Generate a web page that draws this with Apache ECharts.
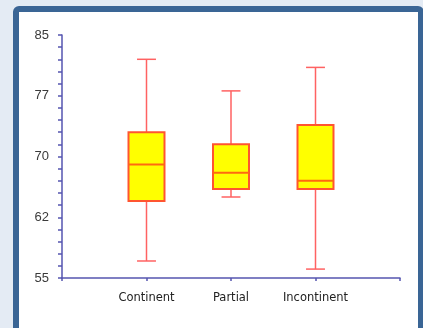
<!DOCTYPE html>
<html>
<head>
<meta charset="utf-8">
<script src="https://cdn.jsdelivr.net/npm/echarts@6/dist/echarts.min.js"></script>
<style>
  html, body { margin: 0; padding: 0; background: #e4ebf4; width: 423px; height: 328px; overflow: hidden; }
  #frame { position: absolute; left: 13px; top: 6px; width: 399px; height: 400px; border: 6px solid #3a6595; border-radius: 6px; background: #ffffff; }
  #chart { position: absolute; left: 0; top: 0; width: 423px; height: 328px; }
</style>
</head>
<body>
<div id="frame"></div>
<div id="chart"></div>
<script>
const categories = ['Continent', 'Partial', 'Incontinent'];
const lowValues = [57.1, 65.0, 56.1];
const q1Values = [64.5, 66.0, 66.0];
const medianValues = [69.0, 68.0, 67.0];
const q3Values = [73.0, 71.5, 73.9];
const highValues = [82.0, 78.1, 81.0];
const yTickLabels = ['55', '62', '70', '77', '85'];
const yMin = 55, yMax = 85, yInterval = 7.5;

const xCats = [''].concat(categories, ['']);
const boxData = categories.map((c, i) => [i + 1, lowValues[i], q1Values[i], medianValues[i], q3Values[i], highValues[i]]);

const chart = echarts.init(document.getElementById('chart'), null, { renderer: 'canvas' });
chart.setOption({
  backgroundColor: 'transparent',
  animation: false,
  grid: { left: 62, right: 23, top: 35, bottom: 50, containLabel: false },
  xAxis: {
    type: 'category',
    data: xCats,
    boundaryGap: false,
    axisLine: { lineStyle: { color: '#5555b0', width: 1.5 } },
    axisTick: { show: true, length: 3, alignWithLabel: true, interval: 0, lineStyle: { color: '#5555b0', width: 1.5 } },
    axisLabel: { interval: 0, margin: 14, color: '#222', fontFamily: 'DejaVu Sans', fontSize: 11.5 },
    splitLine: { show: false }
  },
  yAxis: {
    type: 'value',
    min: yMin, max: yMax, interval: yInterval,
    axisLine: { show: true, lineStyle: { color: '#5555b0', width: 1.5 } },
    axisTick: { show: true, length: 4, lineStyle: { color: '#5555b0', width: 1.5 } },
    minorTick: { show: true, splitNumber: 5, length: 4, lineStyle: { color: '#5555b0', width: 1.5 } },
    axisLabel: {
      margin: 13, color: '#3a3a3a', fontFamily: 'Liberation Sans', fontSize: 13,
      formatter: v => yTickLabels[Math.round((v - yMin) / yInterval)]
    },
    splitLine: { show: false }
  },
  series: [{
    type: 'custom',
    data: boxData,
    encode: { x: 0, y: [1, 2, 3, 4, 5] },
    renderItem: function (params, api) {
      const xi = api.value(0);
      const band = api.size([1, 0])[0];
      const boxHalf = band * 0.213;
      const capHalf = band * 0.112;
      const pLow = api.coord([xi, api.value(1)]);
      const pQ1 = api.coord([xi, api.value(2)]);
      const pMed = api.coord([xi, api.value(3)]);
      const pQ3 = api.coord([xi, api.value(4)]);
      const pHigh = api.coord([xi, api.value(5)]);
      const cx = pLow[0];
      const whisker = { stroke: '#ff6262', lineWidth: 1.5 };
      return {
        type: 'group',
        children: [
          { type: 'line', shape: { x1: cx, y1: pHigh[1], x2: cx, y2: pQ3[1] }, style: whisker },
          { type: 'line', shape: { x1: cx, y1: pQ1[1], x2: cx, y2: pLow[1] }, style: whisker },
          { type: 'line', shape: { x1: cx - capHalf, y1: pHigh[1], x2: cx + capHalf, y2: pHigh[1] }, style: whisker },
          { type: 'line', shape: { x1: cx - capHalf, y1: pLow[1], x2: cx + capHalf, y2: pLow[1] }, style: whisker },
          { type: 'rect', shape: { x: cx - boxHalf, y: pQ3[1], width: boxHalf * 2, height: pQ1[1] - pQ3[1] },
            style: { fill: '#ffff00', stroke: '#ff5530', lineWidth: 2 } },
          { type: 'line', shape: { x1: cx - boxHalf, y1: pMed[1], x2: cx + boxHalf, y2: pMed[1] },
            style: { stroke: '#ff6a10', lineWidth: 2 } }
        ]
      };
    }
  }]
});
</script>
</body>
</html>
